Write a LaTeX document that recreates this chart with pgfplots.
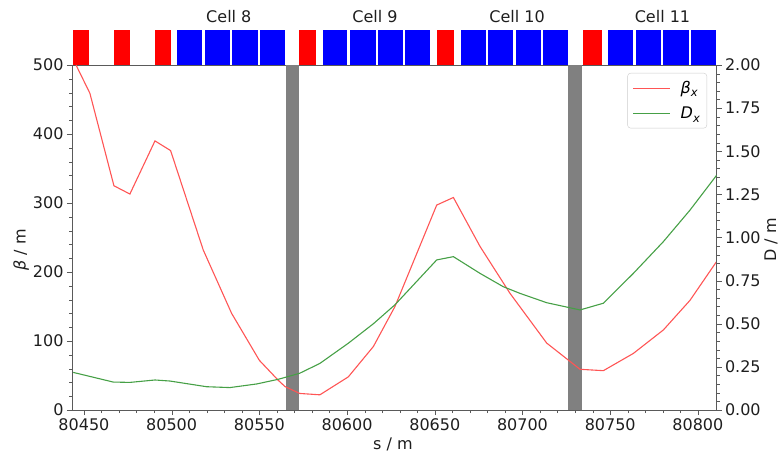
\documentclass[border=0pt]{standalone}
\usepackage{pgfplots}
\pgfplotsset{compat=1.18}
\usepackage{fontspec}
\setmainfont{DejaVu Sans}
\definecolor{betared}{RGB}{255,85,85}
\definecolor{dgreen}{RGB}{70,160,70}
\definecolor{spine}{RGB}{90,90,90}
\definecolor{txt}{RGB}{30,30,30}
\newcommand{\fs}{\fontsize{16}{19}\selectfont}
\newcommand{\magnet}[3]{\addplot[fill=#1,draw=none,forget plot] coordinates {(#2,500) (#2,551) (#3,551) (#3,500)};}
\newcommand{\gbar}[2]{\addplot[fill=gray,draw=none,forget plot] coordinates {(#1,0) (#1,500) (#2,500) (#2,0)};}
\begin{document}
\begin{tikzpicture}
\path[use as bounding box] (-72pt,-48pt) rectangle (709pt,410pt);
\begin{axis}[
 scale only axis, width=644.5pt, height=345pt,
 xmin=80443.2, xmax=80810.6, ymin=0, ymax=500,
 clip=false,
 axis line style={spine},
 tick style={spine},
 tick align=outside,
 major tick length=5pt, minor tick length=3pt,
 xtick pos=left, ytick pos=left,
 xtick={80450,80500,...,80800},
 ytick={0,100,...,500},
 minor x tick num=4, minor y tick num=4,
 scaled x ticks=false,
 xticklabel style={font=\fs, text=txt, /pgf/number format/.cd, fixed, 1000 sep={}, precision=0},
 yticklabel style={font=\fs, text=txt},
 /pgf/number format/assume math mode=true,
 /pgf/number format/1000 sep={},
 xlabel={s / m}, ylabel={{\itshape β} / m},
 label style={font=\fs, text=txt},
 xlabel style={at={(axis description cs:0.498,-0.101)}, anchor=center},
 ylabel style={at={(axis description cs:-0.079,0.464)}, anchor=center},
]
% magnet strip
\magnet{red}{80443.9}{80453.0}
\magnet{red}{80467.1}{80476.2}
\magnet{red}{80490.5}{80499.4}
\magnet{red}{80572.7}{80582.3}
\magnet{red}{80651.1}{80661.1}
\magnet{red}{80734.3}{80745.3}
\magnet{blue}{80503.2}{80517.4}
\magnet{blue}{80519.0}{80533.2}
\magnet{blue}{80534.5}{80549.0}
\magnet{blue}{80550.3}{80564.6}
\magnet{blue}{80586.1}{80600.1}
\magnet{blue}{80601.7}{80616.3}
\magnet{blue}{80617.6}{80631.9}
\magnet{blue}{80633.3}{80647.3}
\magnet{blue}{80664.9}{80679.2}
\magnet{blue}{80680.5}{80694.7}
\magnet{blue}{80696.1}{80710.3}
\magnet{blue}{80711.9}{80726.1}
\magnet{blue}{80748.9}{80763.2}
\magnet{blue}{80764.5}{80778.9}
\magnet{blue}{80780.3}{80794.7}
\magnet{blue}{80796.0}{80810.3}
\gbar{80565.0}{80572.6}
\gbar{80726.1}{80733.8}
\node[font=\fs, text=txt] at (axis cs:80532.6,569.6) {Cell 8};
\node[font=\fs, text=txt] at (axis cs:80615.9,569.6) {Cell 9};
\node[font=\fs, text=txt] at (axis cs:80696.9,569.6) {Cell 10};
\node[font=\fs, text=txt] at (axis cs:80779.8,569.6) {Cell 11};
\addplot[betared, line width=1.1pt, forget plot] coordinates {
(80445.5,500) (80453.4,459) (80467.1,325) (80476.2,313) (80490.5,390)
(80499.4,376) (80518,232) (80534.2,140) (80550,72) (80560.8,43)
(80564.6,34) (80573,24) (80584.5,22) (80600.7,48) (80615,92)
(80627.3,150) (80651.1,297) (80660.6,308) (80675.8,237) (80692.9,169)
(80713.8,97) (80732.8,59) (80746.1,57) (80763.2,82) (80780.3,116)
(80795.5,159) (80810.6,215)
};
\end{axis}
\begin{axis}[
 scale only axis, width=644.5pt, height=345pt,
 xmin=80443.2, xmax=80810.6, ymin=0, ymax=2,
 axis x line=none, axis y line*=right,
 clip=false,
 axis line style={spine},
 tick style={spine},
 tick align=outside,
 major tick length=5pt, minor tick length=3pt,
 ytick={0,0.25,0.5,0.75,1,1.25,1.5,1.75,2},
 minor y tick num=4,
 yticklabel style={font=\fs, text=txt, /pgf/number format/.cd, fixed, fixed zerofill, precision=2},
 /pgf/number format/assume math mode=true,
 legend style={at={(axis description cs:1,1)}, anchor=north east, xshift=-9.5pt, yshift=-8pt,
   font=\fs, draw=black!20, rounded corners=3pt, inner xsep=5pt, inner ysep=6pt, row sep=8pt,
   /tikz/every odd column/.append style={column sep=8pt}},
 legend cell align=left,
 legend image code/.code={\draw[#1] (0pt,0pt) -- (37pt,0pt);},
]
\node[rotate=90, font=\fs, text=txt] at (axis description cs:1.0846,0.493) {D / m};
\addlegendimage{betared, line width=1.1pt}
\addlegendentry{{\itshape β}\raisebox{-3.5pt}{\fontsize{11.5}{12}\selectfont\itshape x}}
\addplot[dgreen, line width=1.1pt] coordinates {
(80443.9,0.218) (80466.7,0.162) (80476.2,0.160) (80490.5,0.174) (80499,0.168)
(80519.9,0.135) (80533.2,0.130) (80548.5,0.151) (80560.8,0.178) (80573,0.213)
(80584.5,0.27) (80600.7,0.387) (80615,0.50) (80627.3,0.61) (80651.1,0.87)
(80660.6,0.889) (80675.8,0.792) (80689,0.715) (80698.6,0.676) (80713.8,0.622)
(80732.8,0.58) (80746.1,0.619) (80763.2,0.792) (80780.3,0.976) (80795.5,1.159)
(80810.6,1.36)
};
\addlegendentry{{\itshape D}\raisebox{-3.5pt}{\fontsize{11.5}{12}\selectfont\itshape x}}
\end{axis}
\end{tikzpicture}
\end{document}
